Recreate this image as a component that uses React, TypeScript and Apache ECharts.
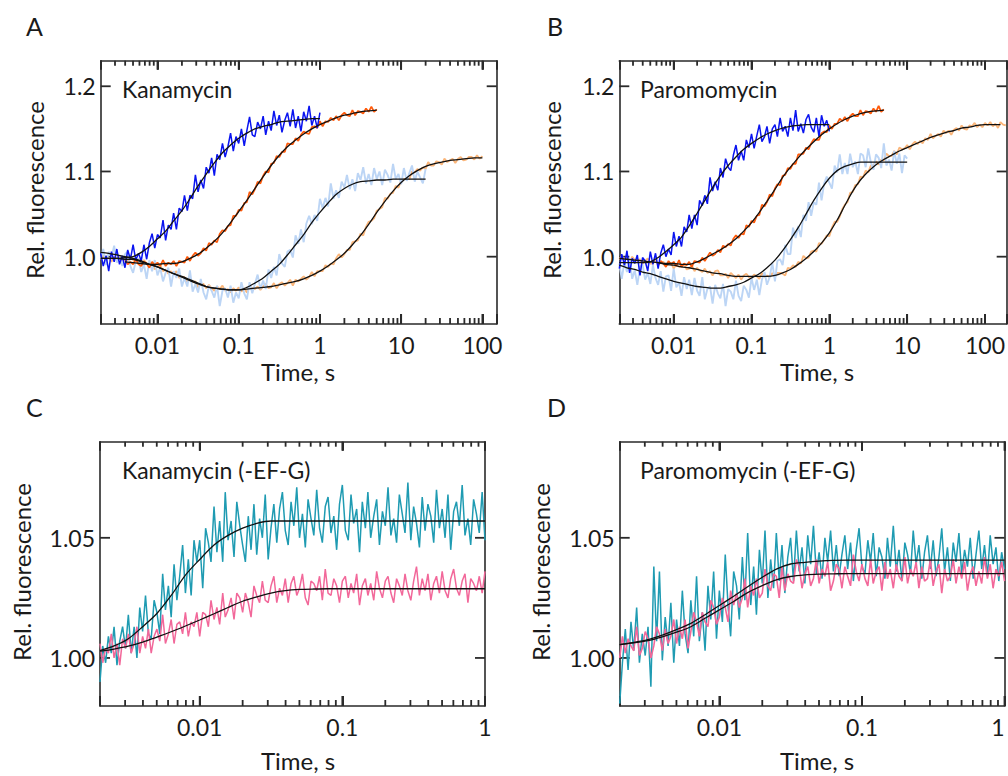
import React, { useEffect, useRef } from "react";
import * as echarts from "echarts";

const FONT = "Lato, 'Noto Sans', sans-serif";
const AX = "#2a2a2a";
const TXT = "#1a1a1a";

// ---- sampling grids of the recorded traces (time, s) ----
const MANT_30 = [1.00, 1.08, 1.17, 1.26, 1.36, 1.47, 1.58, 1.71, 1.85, 2.00, 2.15, 2.33, 2.51, 2.71, 2.93, 3.16, 3.41, 3.69, 3.98, 4.30, 4.64, 5.01, 5.41, 5.84, 6.31, 6.81, 7.36, 7.94, 8.58, 9.26];
const MANT_50 = [1.00, 1.05, 1.10, 1.15, 1.20, 1.26, 1.32, 1.38, 1.45, 1.51, 1.58, 1.66, 1.74, 1.82, 1.91, 2.00, 2.09, 2.19, 2.29, 2.40, 2.51, 2.63, 2.75, 2.88, 3.02, 3.16, 3.31, 3.47, 3.63, 3.80, 3.98, 4.17, 4.37, 4.57, 4.79, 5.01, 5.25, 5.50, 5.75, 6.03, 6.31, 6.61, 6.92, 7.24, 7.59, 7.94, 8.32, 8.71, 9.12, 9.55];
const DECADES = [0.001, 0.01, 0.1, 1, 10, 100];
const MINOR_MULT = [2, 3, 4, 5, 6, 7, 8, 9];
const FIT_STEP_AB = 3; // fitted curves sampled every 3rd point of the AB grid
const FIT_STEP_CD = 5; // and every 5th point of the CD grid

// ---- tick labels ----
const X_MAJOR_AB = [0.01, 0.1, 1, 10, 100];
const X_MAJOR_CD = [0.01, 0.1, 1];
const Y_TICKS_AB = [1.0, 1.1, 1.2];
const Y_TICKS_CD = [1.0, 1.05];

// ---- panel A (Kanamycin) ----
const A_BLUE = [1.004, 0.989, 1.001, 0.983, 1.006, 0.994, 1.009, 0.991, 1.001, 0.987,
  1.008, 0.997, 1.014, 0.996, 1.004, 0.995, 1.014, 0.997, 1.016, 1.027,
  1.010, 1.026, 1.022, 1.043, 1.019, 1.037, 1.032, 1.051, 1.032, 1.057,
  1.053, 1.072, 1.054, 1.072, 1.068, 1.096, 1.076, 1.090, 1.080, 1.105,
  1.098, 1.116, 1.095, 1.120, 1.114, 1.133, 1.117, 1.129, 1.145, 1.124,
  1.141, 1.133, 1.150, 1.130, 1.148, 1.164, 1.143, 1.141, 1.158, 1.150,
  1.165, 1.143, 1.159, 1.148, 1.171, 1.154, 1.166, 1.146, 1.160, 1.169,
  1.153, 1.173, 1.151, 1.165, 1.147, 1.170, 1.159, 1.177, 1.154, 1.165,
  1.151, 1.169];
const A_LBLUE = [0.997, 1.009, 0.990, 1.006, 0.999, 1.013, 0.993, 1.000, 0.989, 1.003,
  1.006, 0.989, 0.981, 0.995, 0.998, 0.982, 0.991, 0.974, 0.996, 0.983,
  0.996, 0.978, 0.987, 0.971, 0.981, 0.987, 0.965, 0.983, 0.975, 0.986,
  0.965, 0.975, 0.965, 0.984, 0.959, 0.968, 0.958, 0.974, 0.958, 0.950,
  0.966, 0.960, 0.952, 0.966, 0.942, 0.960, 0.963, 0.952, 0.966, 0.946,
  0.958, 0.951, 0.970, 0.957, 0.950, 0.970, 0.957, 0.968, 0.979, 0.962,
  0.972, 0.962, 0.985, 0.975, 0.988, 0.978, 1.003, 0.992, 0.988, 1.006,
  1.008, 0.999, 1.025, 1.015, 1.032, 1.017, 1.039, 1.048, 1.038, 1.049,
  1.042, 1.068, 1.057, 1.069, 1.059, 1.086, 1.068, 1.078, 1.069, 1.088,
  1.081, 1.096, 1.079, 1.091, 1.077, 1.098, 1.090, 1.105, 1.086, 1.097,
  1.084, 1.104, 1.091, 1.100, 1.084, 1.102, 1.096, 1.087, 1.109, 1.091,
  1.097, 1.085, 1.104, 1.089, 1.098, 1.107, 1.088, 1.100, 1.093, 1.086, 1.103];
const A_ORANGE_START = 9;
const A_ORANGE = [0.996, 0.991, 0.994, 0.991, 0.997, 0.991, 0.989, 0.994, 0.992, 0.987,
  0.994, 0.990, 0.993, 0.989, 0.996, 0.989, 0.993, 0.991, 0.995, 0.989,
  0.995, 0.994, 0.993, 1.000, 0.995, 1.001, 1.005, 1.001, 1.004, 1.010,
  1.007, 1.016, 1.014, 1.019, 1.017, 1.027, 1.031, 1.030, 1.036, 1.037,
  1.048, 1.048, 1.055, 1.054, 1.063, 1.064, 1.076, 1.073, 1.079, 1.088,
  1.086, 1.095, 1.100, 1.099, 1.109, 1.110, 1.118, 1.117, 1.123, 1.123,
  1.133, 1.132, 1.132, 1.139, 1.136, 1.143, 1.147, 1.145, 1.144, 1.152,
  1.153, 1.151, 1.159, 1.153, 1.159, 1.158, 1.163, 1.160, 1.165, 1.160,
  1.166, 1.169, 1.166, 1.165, 1.172, 1.166, 1.171, 1.170, 1.168, 1.174,
  1.170, 1.176, 1.170, 1.173];
const A_LORANGE = [0.997, 1.001, 0.996, 0.999, 0.994, 1.000, 0.998, 1.001, 0.995, 0.998,
  0.995, 1.001, 0.996, 0.994, 0.997, 0.991, 0.996, 0.992, 0.990, 0.992,
  0.985, 0.989, 0.990, 0.983, 0.985, 0.980, 0.983, 0.979, 0.983, 0.975,
  0.976, 0.976, 0.970, 0.975, 0.970, 0.971, 0.964, 0.968, 0.968, 0.963,
  0.967, 0.963, 0.960, 0.965, 0.962, 0.966, 0.960, 0.962, 0.958, 0.963,
  0.960, 0.964, 0.959, 0.963, 0.958, 0.965, 0.963, 0.962, 0.965, 0.961,
  0.965, 0.968, 0.963, 0.964, 0.969, 0.963, 0.968, 0.970, 0.966, 0.969,
  0.973, 0.966, 0.973, 0.971, 0.974, 0.977, 0.973, 0.976, 0.982, 0.977,
  0.983, 0.983, 0.983, 0.990, 0.988, 0.992, 0.991, 0.998, 1.003, 0.999,
  1.003, 1.008, 1.008, 1.017, 1.018, 1.019, 1.027, 1.025, 1.035, 1.041,
  1.042, 1.045, 1.054, 1.056, 1.058, 1.069, 1.068, 1.074, 1.075, 1.083,
  1.081, 1.089, 1.091, 1.091, 1.091, 1.100, 1.099, 1.103, 1.101, 1.105,
  1.103, 1.111, 1.107, 1.107, 1.112, 1.111, 1.108, 1.115, 1.111, 1.113,
  1.115, 1.110, 1.115, 1.117, 1.113, 1.114, 1.117, 1.117, 1.114, 1.119,
  1.115, 1.118];
// fitted curves, panel A (every 3rd grid point)
const A_FIT_BLUE = [0.998, 0.998, 0.998, 0.999, 1.000, 1.005, 1.012, 1.021, 1.030, 1.042, 1.054, 1.068, 1.083, 1.097, 1.110, 1.122, 1.131, 1.139, 1.145, 1.150, 1.153, 1.155, 1.158, 1.159, 1.160, 1.161, 1.162, 1.162];
const A_FIT_ORANGE = [0.994, 0.993, 0.992, 0.991, 0.991, 0.992, 0.992, 0.994, 0.998, 1.003, 1.010, 1.018, 1.028, 1.040, 1.053, 1.066, 1.080, 1.094, 1.107, 1.119, 1.129, 1.137, 1.144, 1.150, 1.155, 1.159, 1.163, 1.166, 1.168, 1.170, 1.171, 1.172];
const A_FIT_LBLUE = [1.005, 1.004, 1.002, 1.000, 0.998, 0.995, 0.991, 0.988, 0.984, 0.980, 0.977, 0.973, 0.969, 0.965, 0.963, 0.962, 0.961, 0.961, 0.964, 0.969, 0.975, 0.983, 0.991, 1.002, 1.014, 1.026, 1.040, 1.052, 1.063, 1.073, 1.080, 1.085, 1.088, 1.089, 1.090, 1.090, 1.091, 1.091, 1.091, 1.091, 1.091];
const A_FIT_LORANGE = [0.998, 0.998, 0.998, 0.997, 0.997, 0.994, 0.991, 0.988, 0.984, 0.980, 0.976, 0.972, 0.968, 0.965, 0.963, 0.962, 0.961, 0.961, 0.962, 0.963, 0.964, 0.965, 0.967, 0.969, 0.971, 0.974, 0.978, 0.983, 0.989, 0.996, 1.004, 1.014, 1.025, 1.038, 1.052, 1.065, 1.077, 1.087, 1.095, 1.101, 1.106, 1.109, 1.111, 1.113, 1.114, 1.115, 1.116, 1.116];

// ---- panel B (Paromomycin) ----
const B_BLUE = [0.986, 1.003, 0.990, 1.007, 0.981, 0.998, 0.992, 1.002, 0.978, 0.999,
  0.995, 0.983, 1.006, 0.991, 1.004, 0.986, 1.004, 1.014, 1.000, 1.009,
  1.002, 1.029, 1.012, 1.024, 1.012, 1.035, 1.029, 1.049, 1.033, 1.049,
  1.037, 1.066, 1.060, 1.072, 1.062, 1.093, 1.077, 1.088, 1.078, 1.104,
  1.093, 1.115, 1.105, 1.101, 1.119, 1.131, 1.113, 1.124, 1.113, 1.137,
  1.128, 1.144, 1.127, 1.142, 1.155, 1.135, 1.141, 1.153, 1.133, 1.150,
  1.155, 1.141, 1.163, 1.147, 1.153, 1.141, 1.163, 1.148, 1.172, 1.147,
  1.156, 1.145, 1.161, 1.167, 1.152, 1.146, 1.163, 1.141, 1.166, 1.153,
  1.160, 1.147];
const B_LBLUE = [0.992, 0.974, 0.994, 0.982, 0.998, 0.974, 0.984, 0.967, 0.988, 0.991,
  0.973, 0.981, 0.968, 0.990, 0.975, 0.967, 0.983, 0.959, 0.977, 0.978,
  0.960, 0.986, 0.964, 0.970, 0.954, 0.976, 0.962, 0.973, 0.955, 0.975,
  0.960, 0.954, 0.976, 0.950, 0.962, 0.965, 0.945, 0.967, 0.957, 0.951,
  0.968, 0.942, 0.962, 0.959, 0.950, 0.972, 0.954, 0.948, 0.966, 0.961,
  0.952, 0.975, 0.961, 0.973, 0.955, 0.973, 0.982, 0.967, 0.976, 0.993,
  0.971, 0.995, 0.997, 0.990, 1.014, 1.003, 1.003, 1.034, 1.022, 1.036,
  1.023, 1.049, 1.042, 1.064, 1.048, 1.064, 1.061, 1.087, 1.066, 1.086,
  1.094, 1.087, 1.080, 1.107, 1.099, 1.120, 1.097, 1.110, 1.097, 1.121,
  1.105, 1.112, 1.097, 1.121, 1.119, 1.105, 1.127, 1.111, 1.102, 1.120,
  1.116, 1.104, 1.133, 1.107, 1.114, 1.101, 1.124, 1.109, 1.121, 1.098,
  1.119, 1.115];
const B_ORANGE_START = 15;
const B_ORANGE = [0.990, 0.995, 0.992, 0.988, 0.995, 0.991, 0.994, 0.989, 0.996, 0.988,
  0.992, 0.990, 0.994, 0.988, 0.995, 0.994, 0.993, 0.999, 0.995, 1.000,
  1.005, 1.001, 1.003, 1.008, 1.005, 1.013, 1.011, 1.015, 1.013, 1.021,
  1.025, 1.022, 1.027, 1.026, 1.037, 1.035, 1.042, 1.040, 1.048, 1.049,
  1.061, 1.059, 1.064, 1.073, 1.071, 1.080, 1.085, 1.084, 1.095, 1.096,
  1.104, 1.103, 1.109, 1.109, 1.120, 1.120, 1.121, 1.128, 1.126, 1.133,
  1.138, 1.137, 1.137, 1.145, 1.147, 1.146, 1.154, 1.150, 1.156, 1.156,
  1.162, 1.159, 1.164, 1.159, 1.165, 1.168, 1.165, 1.165, 1.172, 1.166,
  1.171, 1.170, 1.168, 1.174, 1.170, 1.177, 1.170, 1.173];
const B_LORANGE = [0.997, 1.001, 0.996, 0.998, 0.993, 1.000, 0.996, 0.995, 0.997, 0.992,
  0.995, 0.998, 0.992, 0.992, 0.996, 0.990, 0.993, 0.994, 0.989, 0.991,
  0.993, 0.986, 0.991, 0.988, 0.989, 0.991, 0.985, 0.986, 0.990, 0.983,
  0.987, 0.984, 0.982, 0.986, 0.981, 0.983, 0.978, 0.983, 0.984, 0.978,
  0.978, 0.980, 0.975, 0.981, 0.978, 0.975, 0.979, 0.973, 0.978, 0.980,
  0.976, 0.975, 0.979, 0.977, 0.974, 0.981, 0.976, 0.978, 0.976, 0.981,
  0.976, 0.981, 0.981, 0.980, 0.978, 0.987, 0.986, 0.990, 0.988, 0.994,
  0.992, 1.001, 0.998, 0.999, 1.006, 1.007, 1.006, 1.016, 1.015, 1.020,
  1.025, 1.024, 1.034, 1.041, 1.041, 1.047, 1.056, 1.061, 1.064, 1.075,
  1.076, 1.084, 1.085, 1.094, 1.093, 1.101, 1.099, 1.107, 1.107, 1.112,
  1.108, 1.114, 1.113, 1.121, 1.118, 1.118, 1.124, 1.120, 1.128, 1.126,
  1.127, 1.131, 1.126, 1.132, 1.135, 1.132, 1.136, 1.133, 1.139, 1.137,
  1.144, 1.139, 1.142, 1.144, 1.141, 1.148, 1.145, 1.148, 1.143, 1.149,
  1.151, 1.148, 1.154, 1.150, 1.149, 1.154, 1.153, 1.157, 1.152, 1.155,
  1.152, 1.157, 1.154, 1.158, 1.153, 1.156, 1.151, 1.158, 1.155, 1.154];
const B_FIT_BLUE = [0.993, 0.993, 0.993, 0.993, 0.994, 0.999, 1.006, 1.014, 1.023, 1.036, 1.051, 1.066, 1.081, 1.095, 1.107, 1.117, 1.126, 1.133, 1.139, 1.144, 1.148, 1.151, 1.153, 1.154, 1.155, 1.155, 1.155, 1.155];
const B_FIT_ORANGE = [0.993, 0.992, 0.992, 0.991, 0.991, 0.994, 0.998, 1.003, 1.008, 1.014, 1.021, 1.030, 1.040, 1.052, 1.065, 1.079, 1.093, 1.105, 1.116, 1.126, 1.135, 1.143, 1.150, 1.156, 1.161, 1.165, 1.168, 1.170, 1.171, 1.172];
const B_FIT_LBLUE = [0.990, 0.987, 0.985, 0.982, 0.980, 0.977, 0.974, 0.971, 0.969, 0.967, 0.965, 0.964, 0.963, 0.963, 0.965, 0.967, 0.970, 0.975, 0.980, 0.987, 0.996, 1.007, 1.020, 1.034, 1.050, 1.066, 1.080, 1.092, 1.101, 1.106, 1.109, 1.111, 1.111, 1.111, 1.111, 1.111, 1.111, 1.111];
const B_FIT_LORANGE = [0.998, 0.997, 0.996, 0.995, 0.994, 0.993, 0.991, 0.990, 0.988, 0.987, 0.985, 0.983, 0.981, 0.980, 0.978, 0.977, 0.977, 0.977, 0.977, 0.977, 0.978, 0.981, 0.985, 0.991, 0.998, 1.006, 1.016, 1.028, 1.043, 1.060, 1.077, 1.090, 1.100, 1.108, 1.114, 1.119, 1.124, 1.128, 1.132, 1.136, 1.140, 1.143, 1.146, 1.148, 1.151, 1.152, 1.154, 1.155, 1.155, 1.155];

// ---- panel C (Kanamycin, -EF-G) ----
const C_TEAL = [0.990, 1.005, 0.998, 1.009, 1.002, 1.013, 0.997, 1.007, 1.013, 1.004,
  1.018, 1.002, 1.013, 1.000, 1.021, 1.011, 1.026, 1.010, 1.008, 1.024,
  1.019, 1.010, 1.035, 1.020, 1.030, 1.017, 1.039, 1.024, 1.034, 1.047,
  1.027, 1.041, 1.026, 1.049, 1.040, 1.049, 1.029, 1.054, 1.048, 1.040,
  1.063, 1.044, 1.057, 1.040, 1.069, 1.049, 1.057, 1.042, 1.065, 1.055,
  1.047, 1.040, 1.059, 1.045, 1.064, 1.043, 1.058, 1.050, 1.068, 1.041,
  1.054, 1.064, 1.048, 1.062, 1.069, 1.053, 1.047, 1.065, 1.055, 1.071,
  1.050, 1.060, 1.046, 1.066, 1.058, 1.051, 1.070, 1.054, 1.048, 1.063,
  1.067, 1.052, 1.059, 1.045, 1.064, 1.072, 1.053, 1.049, 1.068, 1.056,
  1.062, 1.044, 1.065, 1.054, 1.069, 1.050, 1.059, 1.066, 1.047, 1.061,
  1.055, 1.071, 1.051, 1.058, 1.048, 1.068, 1.060, 1.052, 1.073, 1.049,
  1.063, 1.056, 1.046, 1.067, 1.053, 1.064, 1.059, 1.048, 1.070, 1.054,
  1.062, 1.050, 1.068, 1.045, 1.061, 1.065, 1.055, 1.072, 1.051, 1.058,
  1.047, 1.066, 1.060, 1.052, 1.069, 1.049];
const C_PINK = [1.006, 0.998, 1.004, 1.002, 1.010, 1.000, 1.006, 0.997, 1.008, 1.004,
  1.010, 1.002, 1.006, 1.013, 1.002, 1.009, 1.004, 1.012, 1.002, 1.009,
  1.012, 1.007, 1.018, 1.006, 1.010, 1.016, 1.006, 1.014, 1.015, 1.010,
  1.019, 1.009, 1.015, 1.013, 1.019, 1.009, 1.019, 1.018, 1.013, 1.024,
  1.016, 1.021, 1.014, 1.027, 1.017, 1.020, 1.025, 1.016, 1.027, 1.025,
  1.019, 1.027, 1.023, 1.017, 1.030, 1.026, 1.023, 1.032, 1.024, 1.023,
  1.030, 1.034, 1.023, 1.029, 1.026, 1.033, 1.023, 1.031, 1.034, 1.026,
  1.029, 1.035, 1.025, 1.022, 1.032, 1.031, 1.028, 1.034, 1.024, 1.037,
  1.027, 1.026, 1.033, 1.030, 1.023, 1.032, 1.034, 1.025, 1.031, 1.027,
  1.035, 1.022, 1.030, 1.033, 1.026, 1.031, 1.024, 1.036, 1.029, 1.025,
  1.032, 1.034, 1.027, 1.023, 1.033, 1.030, 1.026, 1.035, 1.028, 1.024,
  1.032, 1.038, 1.026, 1.033, 1.028, 1.035, 1.024, 1.031, 1.034, 1.027,
  1.036, 1.028, 1.025, 1.033, 1.037, 1.029, 1.026, 1.032, 1.035, 1.023,
  1.033, 1.031, 1.028, 1.034, 1.027, 1.036];
const C_FIT_TEAL = [1.003, 1.005, 1.008, 1.013, 1.0185, 1.026, 1.0345, 1.041, 1.047, 1.051, 1.054, 1.056, 1.057, 1.057, 1.057, 1.057, 1.057, 1.057, 1.057, 1.057, 1.057, 1.057, 1.057, 1.057, 1.057, 1.057, 1.057, 1.057];
const C_FIT_PINK = [1.0028, 1.0037, 1.0049, 1.0066, 1.0087, 1.0109, 1.0133, 1.0158, 1.0184, 1.021, 1.0236, 1.0254, 1.027, 1.028, 1.0285, 1.0287, 1.0288, 1.0288, 1.0288, 1.0288, 1.0288, 1.0288, 1.0288, 1.0288, 1.0288, 1.0288, 1.0288, 1.0288];

// ---- panel D (Paromomycin, -EF-G) ----
const D_TEAL = [0.981, 0.998, 1.012, 0.995, 1.015, 1.003, 1.021, 0.998, 1.010, 1.001,
  1.013, 0.988, 1.038, 1.007, 1.036, 0.999, 1.017, 1.005, 1.023, 0.998,
  1.016, 1.005, 1.028, 1.010, 1.002, 1.024, 1.009, 1.034, 1.007, 1.019,
  1.003, 1.030, 1.016, 1.036, 1.008, 1.028, 1.015, 1.043, 1.022, 1.009,
  1.036, 1.030, 1.016, 1.042, 1.024, 1.052, 1.022, 1.038, 1.018, 1.045,
  1.031, 1.053, 1.025, 1.041, 1.029, 1.052, 1.032, 1.047, 1.027, 1.042,
  1.050, 1.032, 1.053, 1.036, 1.046, 1.031, 1.051, 1.039, 1.055, 1.035,
  1.044, 1.033, 1.050, 1.040, 1.053, 1.036, 1.047, 1.034, 1.043, 1.051,
  1.037, 1.048, 1.032, 1.045, 1.054, 1.038, 1.035, 1.049, 1.040, 1.052,
  1.034, 1.046, 1.042, 1.033, 1.050, 1.038, 1.055, 1.036, 1.045, 1.032,
  1.048, 1.043, 1.035, 1.053, 1.039, 1.047, 1.033, 1.044, 1.051, 1.037,
  1.049, 1.034, 1.042, 1.054, 1.036, 1.046, 1.032, 1.048, 1.040, 1.052,
  1.035, 1.045, 1.038, 1.050, 1.033, 1.043, 1.053, 1.037, 1.047, 1.034,
  1.051, 1.039, 1.046, 1.032, 1.044, 1.037];
const D_PINK = [1.000, 1.009, 1.002, 1.008, 1.005, 1.003, 1.013, 1.001, 1.004, 1.011,
  1.008, 1.000, 1.005, 1.013, 1.010, 1.003, 1.012, 1.006, 1.009, 1.016,
  1.006, 1.013, 1.008, 1.016, 1.004, 1.011, 1.019, 1.015, 1.009, 1.019,
  1.015, 1.013, 1.024, 1.021, 1.014, 1.017, 1.025, 1.021, 1.015, 1.028,
  1.022, 1.027, 1.021, 1.025, 1.033, 1.021, 1.030, 1.026, 1.033, 1.025,
  1.027, 1.037, 1.030, 1.028, 1.035, 1.034, 1.025, 1.038, 1.028, 1.035,
  1.032, 1.031, 1.041, 1.038, 1.029, 1.035, 1.038, 1.030, 1.033, 1.041,
  1.031, 1.037, 1.034, 1.040, 1.028, 1.032, 1.039, 1.037, 1.029, 1.038,
  1.034, 1.030, 1.043, 1.036, 1.032, 1.039, 1.033, 1.030, 1.041, 1.031,
  1.036, 1.038, 1.028, 1.040, 1.033, 1.037, 1.029, 1.039, 1.034, 1.032,
  1.042, 1.031, 1.037, 1.034, 1.040, 1.029, 1.038, 1.032, 1.033, 1.041,
  1.030, 1.036, 1.039, 1.027, 1.037, 1.032, 1.034, 1.041, 1.031, 1.038,
  1.033, 1.040, 1.028, 1.035, 1.038, 1.030, 1.036, 1.031, 1.042, 1.033,
  1.039, 1.029, 1.037, 1.034, 1.040, 1.032];
const D_FIT_TEAL = [1.0055, 1.0065, 1.0076, 1.0095, 1.0118, 1.0144, 1.018, 1.0218, 1.0257, 1.0296, 1.0336, 1.037, 1.0391, 1.0398, 1.0403, 1.0406, 1.0407, 1.0407, 1.0407, 1.0407, 1.0407, 1.0407, 1.0407, 1.0407, 1.0407, 1.0407, 1.0407, 1.0407];
const D_FIT_PINK = [1.0055, 1.0063, 1.0072, 1.0088, 1.0107, 1.013, 1.0165, 1.02, 1.0235, 1.0272, 1.0301, 1.0325, 1.0339, 1.0346, 1.0349, 1.035, 1.0351, 1.0351, 1.0351, 1.0351, 1.0351, 1.0351, 1.0351, 1.0351, 1.0351, 1.0351, 1.0351, 1.0351];

// ---- colours ----
const C_BLUE = "#0a14f0";
const C_ORANGE = "#ff5a0a";
const C_LBLUE = "#bcd5f5";
const C_LORANGE = "#fbb67a";
const C_TEALC = "#1f9bb2";
const C_PINKC = "#f2689a";
const C_FIT = "#111111";

function sampleGrid(mant: number[], tMin: number, tMax: number): number[] {
  return DECADES.flatMap((d) => mant.map((m) => Number((m * d).toPrecision(3))))
    .filter((t) => t >= tMin * 0.999 && t <= tMax * 1.001);
}
const T_AB = sampleGrid(MANT_30, 0.002, 190);
const T_CD = sampleGrid(MANT_50, 0.002, 1);

const PANELS = [
  { rect: { left: 100.7, top: 60.7, width: 396, height: 263.3 }, xMin: 0.002, xMax: 150, yMin: 0.921, yMax: 1.23, xMajor: X_MAJOR_AB, yTicks: Y_TICKS_AB, yDec: 1, alignLast: false },
  { rect: { left: 619.3, top: 60.7, width: 387.4, height: 263.3 }, xMin: 0.002, xMax: 190, yMin: 0.921, yMax: 1.23, xMajor: X_MAJOR_AB, yTicks: Y_TICKS_AB, yDec: 1, alignLast: false },
  { rect: { left: 100, top: 441.7, width: 385, height: 264.3 }, xMin: 0.002, xMax: 1, yMin: 0.98, yMax: 1.09, xMajor: X_MAJOR_CD, yTicks: Y_TICKS_CD, yDec: 2, alignLast: false },
  { rect: { left: 619.7, top: 441.7, width: 384.8, height: 264.3 }, xMin: 0.002, xMax: 1, yMin: 0.98, yMax: 1.09, xMajor: X_MAJOR_CD, yTicks: Y_TICKS_CD, yDec: 2, alignLast: true },
];

function minorTicks(p: any): number[] {
  return DECADES.flatMap((d) => MINOR_MULT.map((m) => Number((m * d).toPrecision(3))))
    .filter((t) => t > p.xMin * 1.001 && t < p.xMax * 0.999);
}

function fmtX(v: number): string {
  return String(Number(v.toPrecision(3)));
}

function buildOption() {
  const grids: any[] = [];
  const xAxes: any[] = [];
  const yAxes: any[] = [];
  const lineStyle = { color: AX, width: 1.6 };

  PANELS.forEach((p, i) => {
    grids.push({ ...p.rect, containLabel: false });
    const xb = {
      type: "log", logBase: 10, gridIndex: i, min: p.xMin, max: p.xMax,
      splitLine: { show: false },
      axisLine: { show: true, onZero: false, lineStyle },
    };
    xAxes.push({
      ...xb, position: "bottom",
      axisTick: { show: true, inside: true, length: 10, lineStyle: { color: AX, width: 2 } },
      axisLabel: {
        show: true, customValues: p.xMajor, formatter: (v: number) => fmtX(v),
        fontFamily: FONT, fontSize: 23, color: TXT, margin: 9,
        ...(p.alignLast ? { alignMaxLabel: "right" } : {}),
      },
    });
    xAxes.push({
      ...xb, position: "top",
      axisTick: { show: true, inside: true, length: 9, lineStyle: { color: AX, width: 2 } },
      axisLabel: { show: false },
    });

    const yb = {
      type: "value", gridIndex: i, min: p.yMin, max: p.yMax,
      splitLine: { show: false }, axisTick: { show: false },
      axisLine: { show: true, onZero: false, lineStyle },
    };
    yAxes.push({
      ...yb, position: "left",
      axisLabel: {
        show: true, customValues: p.yTicks, formatter: (v: number) => v.toFixed(p.yDec),
        fontFamily: FONT, fontSize: 23, color: TXT, margin: 5,
      },
    });
    yAxes.push({ ...yb, position: "right", axisLabel: { show: false } });
  });

  const trace = (panel: number, T: number[], start: number, vals: number[], color: string, width: number) => ({
    type: "line", xAxisIndex: panel * 2, yAxisIndex: panel * 2,
    data: vals.map((v, k) => [T[start + k], v]),
    symbol: "none", showSymbol: false, z: 2,
    lineStyle: { color, width },
  });
  const fit = (panel: number, T: number[], start: number, step: number, vs: number[]) => ({
    type: "line", xAxisIndex: panel * 2, yAxisIndex: panel * 2,
    data: vs.map((v, k) => [T[start + k * step], v]),
    symbol: "none", showSymbol: false, z: 3,
    smooth: 0.3,
    lineStyle: { color: C_FIT, width: 1.3 },
  });

  const series: any[] = [
    trace(0, T_AB, 0, A_LORANGE, C_LORANGE, 1.8),
    trace(0, T_AB, 0, A_LBLUE, C_LBLUE, 1.9),
    trace(0, T_AB, A_ORANGE_START, A_ORANGE, C_ORANGE, 1.7),
    trace(0, T_AB, 0, A_BLUE, C_BLUE, 1.5),
    fit(0, T_AB, 0, FIT_STEP_AB, A_FIT_LORANGE),
    fit(0, T_AB, 0, FIT_STEP_AB, A_FIT_LBLUE),
    fit(0, T_AB, A_ORANGE_START, FIT_STEP_AB, A_FIT_ORANGE),
    fit(0, T_AB, 0, FIT_STEP_AB, A_FIT_BLUE),
    trace(1, T_AB, 0, B_LORANGE, C_LORANGE, 1.8),
    trace(1, T_AB, 0, B_LBLUE, C_LBLUE, 1.9),
    trace(1, T_AB, B_ORANGE_START, B_ORANGE, C_ORANGE, 1.7),
    trace(1, T_AB, 0, B_BLUE, C_BLUE, 1.5),
    fit(1, T_AB, 0, FIT_STEP_AB, B_FIT_LORANGE),
    fit(1, T_AB, 0, FIT_STEP_AB, B_FIT_LBLUE),
    fit(1, T_AB, B_ORANGE_START, FIT_STEP_AB, B_FIT_ORANGE),
    fit(1, T_AB, 0, FIT_STEP_AB, B_FIT_BLUE),
    trace(2, T_CD, 0, C_TEAL, C_TEALC, 1.5),
    trace(2, T_CD, 0, C_PINK, C_PINKC, 1.5),
    fit(2, T_CD, 0, FIT_STEP_CD, C_FIT_TEAL),
    fit(2, T_CD, 0, FIT_STEP_CD, C_FIT_PINK),
    trace(3, T_CD, 0, D_TEAL, C_TEALC, 1.5),
    trace(3, T_CD, 0, D_PINK, C_PINKC, 1.6),
    fit(3, T_CD, 0, FIT_STEP_CD, D_FIT_TEAL),
    fit(3, T_CD, 0, FIT_STEP_CD, D_FIT_PINK),
  ];

  return {
    animation: false,
    backgroundColor: "#ffffff",
    textStyle: { fontFamily: FONT },
    grid: grids,
    xAxis: xAxes,
    yAxis: yAxes,
    series,
  };
}

function textGraphics() {
  const txt = (text: string, x: number, y: number, size: number, align: string, rot = 0) => ({
    type: "text", x, y, rotation: rot,
    style: {
      text, fill: TXT, font: `${size}px ${FONT}`,
      align, verticalAlign: "middle", textAlign: align, textVerticalAlign: "middle",
    },
  });
  return [
    txt("A", 26, 26, 25, "left"),
    txt("B", 547, 26, 25, "left"),
    txt("C", 26, 407, 25, "left"),
    txt("D", 547, 407, 25, "left"),
    txt("Kanamycin", 122, 89, 23, "left"),
    txt("Paromomycin", 640, 89, 23, "left"),
    txt("Kanamycin (-EF-G)", 122, 470, 23, "left"),
    txt("Paromomycin (-EF-G)", 640, 470, 23, "left"),
    txt("Rel. fluorescence", 34, 190, 24, "center", Math.PI / 2),
    txt("Rel. fluorescence", 551, 190, 24, "center", Math.PI / 2),
    txt("Rel. fluorescence", 21, 572, 24, "center", Math.PI / 2),
    txt("Rel. fluorescence", 540, 572, 24, "center", Math.PI / 2),
    txt("Time, s", 298, 371, 24, "center"),
    txt("Time, s", 817, 371, 24, "center"),
    txt("Time, s", 298, 760, 24, "center"),
    txt("Time, s", 817, 760, 24, "center"),
  ];
}

// Map an axis value to a pixel through the chart's own scales; if that is
// unavailable, fall back to the same log/linear mapping of the panel's axes.
function toPixel(chart: any, i: number, x: number, y: number): number[] {
  const p = PANELS[i];
  let r: any = null;
  try {
    r = chart.convertToPixel({ xAxisIndex: i * 2, yAxisIndex: i * 2 }, [x, y]);
  } catch (e) {
    r = null;
  }
  if (r && isFinite(r[0]) && isFinite(r[1])) return r;
  const lx = (Math.log10(x) - Math.log10(p.xMin)) / (Math.log10(p.xMax) - Math.log10(p.xMin));
  const ly = (y - p.yMin) / (p.yMax - p.yMin);
  return [p.rect.left + lx * p.rect.width, p.rect.top + (1 - ly) * p.rect.height];
}

// minor x ticks and y ticks
function tickGraphics(chart: any) {
  const out: any[] = [];
  const seg = (x1: number, y1: number, x2: number, y2: number) => ({
    type: "line",
    shape: { x1, y1, x2, y2 },
    style: { stroke: AX, lineWidth: 1.8 },
  });
  PANELS.forEach((p, i) => {
    minorTicks(p).forEach((t) => {
      const b = toPixel(chart, i, t, p.yMin);
      const top = toPixel(chart, i, t, p.yMax);
      out.push(seg(b[0], b[1], b[0], b[1] - 6));
      out.push(seg(top[0], top[1], top[0], top[1] + 5));
    });
    p.xMajor.forEach((t) => {
      const b = toPixel(chart, i, t, p.yMin);
      const top = toPixel(chart, i, t, p.yMax);
      out.push(seg(b[0], b[1], b[0], b[1] - 10));
      out.push(seg(top[0], top[1], top[0], top[1] + 9));
    });
    p.yTicks.forEach((v) => {
      const l = toPixel(chart, i, p.xMin, v);
      const r = toPixel(chart, i, p.xMax, v);
      out.push(seg(l[0], l[1], l[0] + 10, l[1]));
      out.push(seg(r[0], r[1], r[0] - 10, r[1]));
    });
  });
  return out;
}

export default function App() {
  const ref = useRef<HTMLDivElement>(null);
  useEffect(() => {
    if (!ref.current) return;
    const chart = echarts.init(ref.current, undefined, { renderer: "svg" });
    chart.setOption(buildOption() as any);
    let ticks: any[] = [];
    try {
      ticks = tickGraphics(chart);
    } catch (e) {
      ticks = [];
    }
    chart.setOption({ graphic: [...ticks, ...textGraphics()] } as any);
    return () => chart.dispose();
  }, []);
  return (
    <div
      ref={ref}
      style={{ position: "fixed", left: 0, top: 0, width: 1008, height: 776, background: "#fff" }}
    />
  );
}
